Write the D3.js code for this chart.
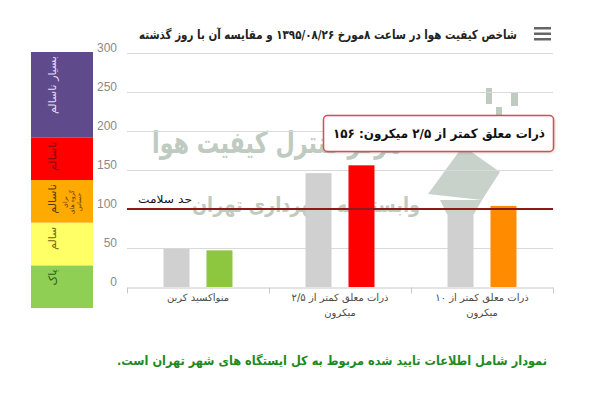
<!DOCTYPE html>
<html>
<head>
<meta charset="utf-8">
<script src="https://cdn.jsdelivr.net/npm/d3@7"></script>
<style>
  body { margin: 0; background: #fff; }
  svg { font-family: "DejaVu Sans", sans-serif; }
</style>
</head>
<body>
<script>
// data
let titleText = "شاخص کیفیت هوا در ساعت ۸مورخ ۱۳۹۵/۰۸/۲۶ و مقایسه آن با روز گذشته";
let footerText = "نمودار شامل اطلاعات تایید شده مربوط به کل ایستگاه های شهر تهران است.";
let categories = ["co", "pm25", "pm10"];
let categoryLines = [["منواکسید کربن"], ["ذرات معلق کمتر از ۲/۵", "میکرون"], ["ذرات معلق کمتر از ۱۰", "میکرون"]];
let yesterdayValues = [49, 146, 95];
let todayValues = [47, 156, 104];
let todayColors = ["#8dc63f", "#ff0000", "#ff8c00"];
let yTicks = [0, 50, 100, 150, 200, 250, 300];
let healthLimit = 100;
let healthLabel = "حد سلامت";
let tooltipText = "ذرات معلق کمتر از ۲/۵ میکرون: ۱۵۶";

let bandFrom = [0, 50, 100, 150, 200];
let bandTo = [50, 100, 150, 200, 300];
let bandLabels = ["پاک", "سالم", "ناسالم", "ناسالم", "بسیار ناسالم"];
let bandColors = ["#8fcf54", "#ffff66", "#ffaa00", "#ff0000", "#5f4a8b"];
let bandTextColors = ["#2f5a17", "#6b6a10", "#5b3a00", "#7a0d0d", "#e4ddf0"];
let sensitiveLines = ["برای", "گروه های", "حساس"];

let marginLeft = 127,
  marginRight = 47,
  plotTop = 53,
  plotBottom = 287;

let svg = d3.select("body").append("svg")
  .attr("width", 600)
  .attr("height", 400);

// rtl text helper, squeezed to the width seen in the picture
function rtlText(sel, x, yPos, size, width, txt) {
  let t = sel.append("text")
    .attr("x", x).attr("y", yPos)
    .attr("direction", "rtl").attr("text-anchor", "start")
    .style("font-size", size + "px")
    .text(txt);
  if (width) t.attr("textLength", width).attr("lengthAdjust", "spacingAndGlyphs");
  return t;
}

// watermark in background
let wm = svg.append("g").attr("fill", "#bfcac1");
rtlText(wm, 402, 153, 30, 250, "مرکز کنترل کیفیت هوا").style("font-weight", "bold");
rtlText(wm, 420, 212, 21, 228, "وابسته به شهرداری تهران").style("font-weight", "bold");
wm.append("path")
  .attr("d", "M428,194 L463,146 L500,172 L482,200 Z M440,200 L482,200 L474,214 L447,214 Z")
  .attr("opacity", 0.85);
[[486, 88, 6, 16], [511, 93, 7, 13], [496, 107, 6, 8], [478, 118, 5, 10], [492, 128, 6, 14], [468, 140, 6, 8]]
  .forEach(r => wm.append("rect").attr("x", r[0]).attr("y", r[1]).attr("width", r[2]).attr("height", r[3]));

// scales
let x0 = d3.scaleBand().domain(categories).range([marginLeft, 600 - marginRight]);
let x1 = d3.scaleBand().domain(["yesterday", "today"]).range([0, x0.bandwidth()])
  .paddingInner(0.395).paddingOuter(0.85);
let y = d3.scaleLinear().domain([0, 300]).range([plotBottom, plotTop]);
let yBand = d3.scaleLinear().domain([0, 300]).range([308, 52]);

// left colour legend
let band = svg.append("g");
band.selectAll("rect")
  .data(bandFrom)
  .enter().append("rect")
  .attr("x", 31)
  .attr("width", 62)
  .attr("y", (d, i) => yBand(bandTo[i]))
  .attr("height", (d, i) => yBand(d) - yBand(bandTo[i]))
  .attr("fill", (d, i) => bandColors[i]);
band.selectAll("text.lbl")
  .data(bandLabels)
  .enter().append("text")
  .attr("class", "lbl")
  .attr("transform", (d, i) => "translate(52," + (yBand(bandTo[i]) + 4) + ") rotate(-90)")
  .attr("text-anchor", "end")
  .attr("dominant-baseline", "central")
  .attr("fill", (d, i) => bandTextColors[i])
  .style("font-size", "11px")
  .text(d => d);
band.selectAll("text.sens")
  .data(sensitiveLines)
  .enter().append("text")
  .attr("class", "sens")
  .attr("transform", (d, i) => "translate(" + (64 + i * 7) + "," + (yBand(150) + 22) + ") rotate(-90)")
  .attr("text-anchor", "middle")
  .attr("dominant-baseline", "central")
  .attr("fill", "#5b3a00")
  .style("font-size", "6px")
  .text(d => d);

// grid + y labels
svg.append("g").selectAll("line")
  .data(yTicks.slice(1))
  .enter().append("line")
  .attr("x1", marginLeft).attr("x2", 600 - marginRight)
  .attr("y1", d => y(d) + 0.5).attr("y2", d => y(d) + 0.5)
  .attr("stroke", "#d9d9d9");
svg.append("g").selectAll("text")
  .data(yTicks)
  .enter().append("text")
  .attr("x", 117)
  .attr("y", d => y(d) - 1)
  .attr("text-anchor", "end")
  .attr("fill", "#8a8a8a")
  .style("font-family", "Liberation Sans, Arial, sans-serif")
  .style("font-size", "12px")
  .text(d => d);

// x axis
let xAxis = svg.append("g")
  .attr("transform", "translate(0," + (plotBottom + 0.5) + ")")
  .call(d3.axisBottom(x0).tickValues([]).tickSizeOuter(0));
xAxis.select(".domain").attr("stroke", "#c8c8c8");
let edges = categories.map(c => x0(c)).concat([x0.range()[1]]);
xAxis.selectAll("line.edge")
  .data(edges)
  .enter().append("line")
  .attr("class", "edge")
  .attr("x1", d => d + 0.5).attr("x2", d => d + 0.5)
  .attr("y1", 0).attr("y2", 6)
  .attr("stroke", "#c8c8c8");
categories.forEach((c, i) => {
  categoryLines[i].forEach((line, j) => {
    svg.append("text")
      .attr("x", x0(c) + x0.bandwidth() / 2)
      .attr("y", 301 + j * 15)
      .attr("text-anchor", "middle")
      .attr("fill", "#4a4a4a")
      .style("font-size", "10px")
      .text(line);
  });
});

// bars
let groups = svg.append("g").selectAll("g")
  .data(categories)
  .enter().append("g")
  .attr("transform", d => "translate(" + x0(d) + ",0)");
groups.append("rect")
  .attr("x", x1("yesterday"))
  .attr("width", x1.bandwidth())
  .attr("y", (d, i) => y(yesterdayValues[i]))
  .attr("height", (d, i) => y(0) - y(yesterdayValues[i]))
  .attr("fill", "#d0d0d0");
groups.append("rect")
  .attr("x", x1("today"))
  .attr("width", x1.bandwidth())
  .attr("y", (d, i) => y(todayValues[i]))
  .attr("height", (d, i) => y(0) - y(todayValues[i]))
  .attr("fill", (d, i) => todayColors[i]);

// health limit line
svg.append("line")
  .attr("x1", marginLeft).attr("x2", 600 - marginRight)
  .attr("y1", y(healthLimit)).attr("y2", y(healthLimit))
  .attr("stroke", "#8b1a1a")
  .attr("stroke-width", 2);
rtlText(svg, 192, y(healthLimit) - 6, 11, 54, healthLabel).attr("fill", "#111");

// tooltip
let tip = svg.append("g");
tip.append("rect")
  .attr("x", 323.5).attr("y", 115.5)
  .attr("width", 230).attr("height", 36)
  .attr("rx", 4)
  .attr("fill", "#fff")
  .attr("stroke", "#e04a4a")
  .attr("stroke-width", 1.5)
  .style("filter", "drop-shadow(1px 1px 1px rgba(0,0,0,0.15))");
rtlText(tip, 545, 138, 13, 212, tooltipText)
  .attr("fill", "#111").style("font-weight", "bold");

// title + menu icon
rtlText(svg, 517, 39, 12.5, 378, titleText)
  .attr("fill", "#222").style("font-weight", "bold");
svg.append("g").selectAll("rect")
  .data([0, 1, 2])
  .enter().append("rect")
  .attr("x", 534).attr("width", 17)
  .attr("y", d => 27 + d * 5.5).attr("height", 2.5)
  .attr("fill", "#666");

// footer
rtlText(svg, 547, 365, 12.5, 430, footerText)
  .attr("fill", "#1d8a1d").style("font-weight", "bold");
</script>
</body>
</html>
